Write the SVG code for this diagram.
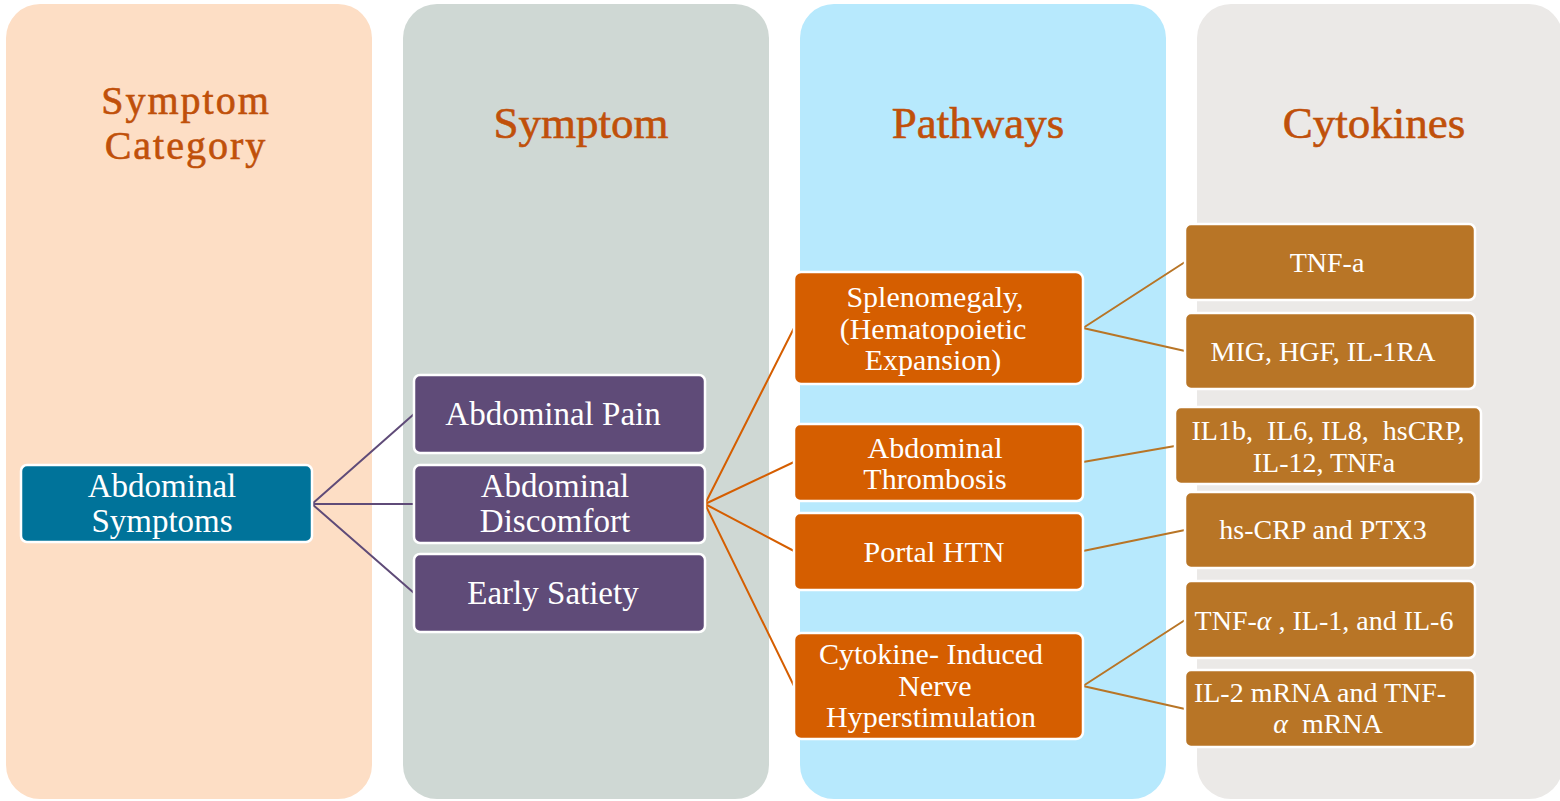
<svg xmlns="http://www.w3.org/2000/svg" width="1560" height="801" viewBox="0 0 1560 801">
  <style>
    text { font-family: "Liberation Serif", "DejaVu Serif", serif; text-anchor: middle; }
    .hdr { fill: #C0500A; stroke: #C0500A; stroke-width: 0.6; font-size: 45px; }
    .hdr2 { font-size: 40px; letter-spacing: 2px; }
    .lbl { fill: #FFFFFF; font-size: 33px; }
    .pth { fill: #FFFFFF; font-size: 30px; }
    .cyt { fill: #FFFFFF; font-size: 28px; }
    .box { stroke: #FFFFFF; stroke-width: 2.5; }
    .cat { fill: #00739A; }
    .sym { fill: #5F4B78; }
    .pw { fill: #D55E00; }
    .ck { fill: #B87526; }
    .c1 { stroke: #5F4B78; stroke-width: 2; fill: none; }
    .c2 { stroke: #D55E00; stroke-width: 2; fill: none; }
    .c3 { stroke: #B87526; stroke-width: 2; fill: none; }
  </style>

  <rect width="1560" height="801" fill="#FFFFFF"/>

  <!-- column bands -->
  <g id="columns">
    <rect x="6" y="4" width="366" height="795" rx="34" fill="#FDDEC5"/>
    <rect x="403" y="4" width="366" height="795" rx="34" fill="#CFD8D4"/>
    <rect x="800" y="4" width="366" height="795" rx="34" fill="#B7E9FD"/>
    <rect x="1197" y="4" width="366" height="795" rx="34" fill="#EBE9E7"/>
  </g>

  <!-- column headings -->
  <g id="headings">
    <text class="hdr hdr2" x="186" y="114">Symptom</text>
    <text class="hdr hdr2" x="186" y="159">Category</text>
    <text class="hdr" x="581" y="138">Symptom</text>
    <text class="hdr" x="978" y="138">Pathways</text>
    <text class="hdr" x="1374" y="138">Cytokines</text>
  </g>

  <!-- connectors -->
  <g id="connectors">
    <path class="c1" d="M312 504 L414 414 M312 504 L414 504 M312 504 L414 593"/>
    <path class="c2" d="M705 504 L794 328 M705 504 L794 462 M705 504 L794 551 M705 504 L794 686"/>
    <path class="c3" d="M1083 328 L1185 262 M1083 328 L1185 351 M1083 462 L1175 446 M1083 551 L1185 530 M1083 686 L1185 620 M1083 686 L1185 709"/>
  </g>

  <!-- symptom category -->
  <g id="abdominal-symptoms">
    <rect class="box cat" x="21" y="465" width="291" height="77" rx="6"/>
    <text class="lbl" x="162" y="497">Abdominal</text>
    <text class="lbl" x="162" y="532">Symptoms</text>
  </g>

  <!-- symptoms -->
  <g id="abdominal-pain">
    <rect class="box sym" x="414" y="375" width="291" height="78" rx="6"/>
    <text class="lbl" x="553" y="425">Abdominal Pain</text>
  </g>
  <g id="abdominal-discomfort">
    <rect class="box sym" x="414" y="465" width="291" height="78" rx="6"/>
    <text class="lbl" x="555" y="497">Abdominal</text>
    <text class="lbl" x="555" y="532">Discomfort</text>
  </g>
  <g id="early-satiety">
    <rect class="box sym" x="414" y="554" width="291" height="78" rx="6"/>
    <text class="lbl" x="553" y="604">Early Satiety</text>
  </g>

  <!-- pathways -->
  <g id="splenomegaly">
    <rect class="box pw" x="794" y="272" width="289" height="112" rx="7"/>
    <text class="pth" x="935" y="307">Splenomegaly,</text>
    <text class="pth" x="933" y="339">(Hematopoietic</text>
    <text class="pth" x="933" y="370">Expansion)</text>
  </g>
  <g id="abdominal-thrombosis">
    <rect class="box pw" x="794" y="424" width="289" height="77" rx="6"/>
    <text class="pth" x="935" y="458">Abdominal</text>
    <text class="pth" x="935" y="489">Thrombosis</text>
  </g>
  <g id="portal-htn">
    <rect class="box pw" x="794" y="513" width="289" height="77" rx="6"/>
    <text class="pth" x="934" y="562">Portal HTN</text>
  </g>
  <g id="nerve-hyperstimulation">
    <rect class="box pw" x="794" y="633" width="289" height="106" rx="7"/>
    <text class="pth" x="931" y="664">Cytokine- Induced</text>
    <text class="pth" x="935" y="696">Nerve</text>
    <text class="pth" x="931" y="727">Hyperstimulation</text>
  </g>

  <!-- cytokines -->
  <g id="tnf-a">
    <rect class="box ck" x="1185" y="224" width="290" height="76" rx="6"/>
    <text class="cyt" x="1327" y="272">TNF-a</text>
  </g>
  <g id="mig-hgf">
    <rect class="box ck" x="1185" y="313" width="290" height="76" rx="6"/>
    <text class="cyt" x="1323" y="361">MIG, HGF, IL-1RA</text>
  </g>
  <g id="il1b-group">
    <rect class="box ck" x="1175" y="407" width="306" height="77" rx="6"/>
    <text class="cyt" x="1328" y="440" xml:space="preserve">IL1b,  IL6, IL8,  hsCRP,</text>
    <text class="cyt" x="1324" y="472">IL-12, TNFa</text>
  </g>
  <g id="hscrp-ptx3">
    <rect class="box ck" x="1185" y="492" width="290" height="76" rx="6"/>
    <text class="cyt" x="1323" y="539">hs-CRP and PTX3</text>
  </g>
  <g id="tnf-il1-il6">
    <rect class="box ck" x="1185" y="581" width="290" height="77" rx="6"/>
    <text class="cyt" x="1324" y="630" xml:space="preserve">TNF-<tspan font-style="italic">α</tspan> , IL-1, and IL-6</text>
  </g>
  <g id="il2-mrna">
    <rect class="box ck" x="1185" y="670" width="290" height="77" rx="6"/>
    <text class="cyt" x="1320" y="702">IL-2 mRNA and TNF-</text>
    <text class="cyt" x="1328" y="733" xml:space="preserve"><tspan font-style="italic">α</tspan>  mRNA</text>
  </g>
</svg>
